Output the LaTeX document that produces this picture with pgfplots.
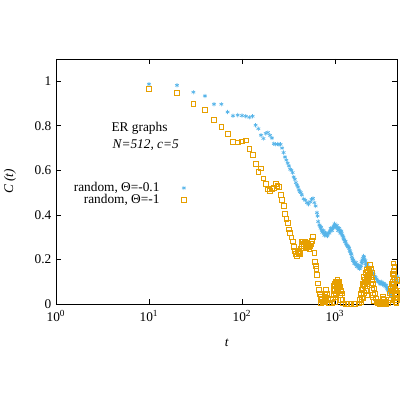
\documentclass[border=0pt]{standalone}
\usepackage{pgfplots}
\pgfplotsset{compat=1.18}
\usepackage{fontspec}
\setmainfont{Liberation Serif}
\definecolor{cblue}{HTML}{56B4E9}
\definecolor{corange}{HTML}{E69F00}
\pgfplotstableread{
t C
10 0.987
20 0.982
30 0.951
40 0.934
50 0.897
60 0.897
70 0.862
80 0.845
90 0.848
100 0.846
110 0.843
120 0.838
130 0.843
140 0.803
150 0.787
160 0.758
170 0.743
180 0.766
190 0.770
200 0.757
210 0.745
220 0.720
230 0.717
240 0.718
250 0.716
260 0.717
270 0.700
280 0.680
290 0.660
300 0.646
310 0.632
320 0.620
330 0.605
340 0.601
350 0.590
360 0.570
370 0.560
380 0.545
390 0.534
400 0.525
410 0.512
420 0.504
430 0.500
440 0.490
460 0.472
480 0.466
500 0.455
520 0.448
540 0.459
560 0.470
580 0.474
600 0.455
620 0.440
640 0.410
660 0.370
680 0.355
700 0.340
720 0.332
740 0.325
760 0.318
780 0.312
800 0.309
820 0.315
850 0.320
880 0.328
910 0.332
940 0.340
970 0.350
1000 0.354
1030 0.348
1060 0.342
1090 0.338
1120 0.332
1150 0.325
1180 0.317
1210 0.305
1240 0.292
1280 0.279
1320 0.270
1360 0.262
1400 0.255
1440 0.240
1480 0.225
1520 0.212
1560 0.195
1600 0.188
1650 0.180
1700 0.175
1750 0.170
1800 0.165
1850 0.160
1900 0.172
1950 0.183
2000 0.205
2050 0.210
2100 0.190
2150 0.180
2200 0.172
2250 0.167
2300 0.160
2400 0.150
2500 0.145
2600 0.132
2700 0.122
2800 0.112
2900 0.102
3000 0.098
3100 0.095
3200 0.093
3300 0.090
3400 0.087
3500 0.083
3600 0.075
3700 0.065
3800 0.058
3900 0.050
4000 0.043
4100 0.040
4200 0.060
4300 0.080
4400 0.093
4500 0.105
4600 0.115
4700 0.122
650 0.395
690 0.350
710 0.345
730 0.322
750 0.330
770 0.308
790 0.320
830 0.305
870 0.318
900 0.340
930 0.330
960 0.342
990 0.360
1010 0.345
1050 0.352
1080 0.330
1110 0.340
1140 0.318
1170 0.328
1200 0.310
1230 0.300
1260 0.288
1300 0.282
1340 0.265
1380 0.258
1420 0.250
1460 0.235
1500 0.225
1540 0.202
1580 0.198
1620 0.182
1680 0.186
1720 0.168
1780 0.175
1830 0.158
1880 0.165
1930 0.190
1970 0.198
2030 0.215
2070 0.200
2120 0.195
2170 0.172
2230 0.178
2280 0.162
2350 0.155
2450 0.148
2550 0.138
2650 0.125
2750 0.118
2850 0.105
2950 0.100
3050 0.090
3150 0.100
3250 0.088
3350 0.093
3450 0.080
3550 0.085
3650 0.070
3750 0.060
3850 0.055
3950 0.045
4050 0.035
4150 0.050
4250 0.070
4350 0.085
4450 0.100
4550 0.110
4650 0.105
}\tblue
\pgfplotstableread{
t C
10 0.967
20 0.949
30 0.900
40 0.870
50 0.825
60 0.795
70 0.765
80 0.728
90 0.726
100 0.730
110 0.735
120 0.698
130 0.668
140 0.628
150 0.592
160 0.609
170 0.564
180 0.540
190 0.515
200 0.508
210 0.517
220 0.522
230 0.538
240 0.530
250 0.526
260 0.489
270 0.466
280 0.441
290 0.404
300 0.384
310 0.363
320 0.335
330 0.318
340 0.299
350 0.281
360 0.255
370 0.239
380 0.226
390 0.215
400 0.235
410 0.228
420 0.224
430 0.250
440 0.279
450 0.281
460 0.270
470 0.279
480 0.262
490 0.250
500 0.255
510 0.264
520 0.258
540 0.262
560 0.283
580 0.300
600 0.231
610 0.190
620 0.170
630 0.159
640 0.130
660 0.093
670 0.063
690 0.045
705 0.033
720 0.020
740 0.010
760 0.008
780 0.033
800 0.063
820 0.045
840 0.020
860 0.005
890 0.003
920 0.003
940 0.025
960 0.063
980 0.080
1000 0.090
1020 0.100
1040 0.095
1060 0.110
1080 0.100
1100 0.085
1120 0.078
1150 0.060
1180 0.048
1200 0.020
1220 0.003
1300 0.0
1400 0.0
1500 0.0
1650 0.0
1790 0.003
1850 0.020
1900 0.045
1940 0.063
1980 0.090
2020 0.122
2080 0.110
2120 0.140
2180 0.152
2240 0.130
2300 0.160
2370 0.175
2420 0.160
2480 0.138
2530 0.110
2560 0.093
2620 0.070
2700 0.048
2750 0.025
2800 0.010
2900 0.003
3000 0.0
3100 0.005
3190 0.010
3250 0.025
3300 0.033
3380 0.020
3460 0.010
3550 0.0
3700 0.005
3800 0.020
3900 0.048
4000 0.070
4090 0.093
4170 0.137
4240 0.182
4300 0.150
4360 0.167
4400 0.110
4450 0.063
4500 0.040
4550 0.030
4600 0.018
4650 0.050
4700 0.080
970 0.040
1000 0.060
1010 0.030
1050 0.070
1070 0.085
1090 0.060
1110 0.100
1130 0.040
1160 0.020
990 0.010
1030 0.045
1920 0.010
1960 0.030
2000 0.070
2040 0.090
2060 0.050
2100 0.080
2140 0.100
2160 0.060
2200 0.115
2220 0.090
2260 0.145
2280 0.110
2320 0.125
2340 0.150
2390 0.140
2440 0.120
2460 0.085
2510 0.065
2540 0.040
2580 0.030
2640 0.012
2020 0.025
2200 0.040
3950 0.020
4050 0.040
4120 0.060
4200 0.100
4220 0.075
4280 0.120
4320 0.090
4340 0.130
4380 0.070
4420 0.030
4480 0.010
4530 0.060
4580 0.005
4620 0.045
4680 0.030
4660 0.110
3220 0.0
3350 0.008
3420 0.0
440 0.262
460 0.250
490 0.275
530 0.245
550 0.270
710 0.005
730 0.020
770 0.015
790 0.045
810 0.030
}\torange
\begin{document}
\begin{tikzpicture}
\useasboundingbox (-42pt,-72pt) rectangle (258pt,228pt);
\begin{axis}[
  at={(0pt,0pt)}, anchor=south west,
  scale only axis, width=256.1pt, height=183.75pt,
  xmode=log, log basis x=10,
  xmin=1, xmax=4700, ymin=0, ymax=1.1,
  clip=false,
  font=\fontsize{10}{12}\selectfont,
  xtick={1,10,100,1000},
  xticklabels={10\textsuperscript{0},10\textsuperscript{1},10\textsuperscript{2},10\textsuperscript{3}},
  xticklabel style={yshift=-1.5pt},
  ytick={0,0.2,0.4,0.6,0.8,1},
  yticklabels={0,0.2,0.4,0.6,0.8,1},
  tick align=inside,
  major tick length=4pt, minor tick length=2.2pt,
  tick style={black, line width=0.5pt},
  axis line style={line width=0.6pt},
  xlabel={\textit{t}}, ylabel={\textit{C (t)}},
  xlabel style={at={(axis description cs:0.5,-0.159)}, anchor=center},
  ylabel style={at={(axis description cs:-0.135,0.5)}, anchor=center},
  legend plot pos=right,
  legend cell align=right,
  legend style={draw=none, fill=none, at={(axis description cs:0.394,0.449)}, anchor=east,
    font=\fontsize{10}{12}\selectfont,
    nodes={inner sep=0.5pt, text depth=0.15em, text height=0.65em},
    /tikz/every odd column/.append style={column sep=16pt}},
]
\addplot[only marks, mark=asterisk, mark size=1.6pt, cblue, line width=0.5pt] table[x=t,y=C] {\tblue};
\addlegendentry{random, Θ=-0.1}
\addplot[only marks, mark=square, mark size=1.8pt, corange, line width=0.55pt] table[x=t,y=C] {\torange};
\addlegendentry{random, Θ=-1}
\node[anchor=base west] at (axis description cs:0.149,0.705) {ER graphs};
\node[anchor=base west] at (axis description cs:0.152,0.636) {\textit{N=512, c=5}};
\end{axis}
\end{tikzpicture}
\end{document}
